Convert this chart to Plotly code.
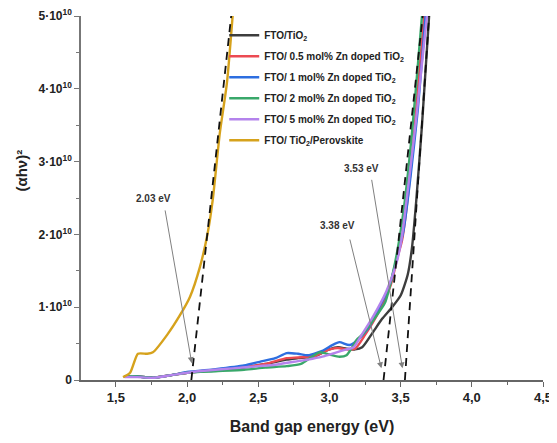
import plotly.graph_objects as go

# ---- data, energies in eV, (ahv)^2 in units of 1e10 ----
E10 = 1e10

tio2_x = [1.56, 1.65, 1.75, 1.9, 2.0, 2.2, 2.4, 2.55, 2.7, 2.78, 2.9, 3.0, 3.06, 3.12, 3.18, 3.23, 3.30, 3.37, 3.44, 3.50, 3.55, 3.58, 3.61, 3.65, 3.70]
tio2_y = [0.05, 0.05, 0.03, 0.07, 0.10, 0.13, 0.17, 0.22, 0.28, 0.30, 0.33, 0.42, 0.45, 0.43, 0.42, 0.45, 0.64, 0.84, 1.00, 1.16, 1.45, 1.82, 2.47, 3.50, 5.00]

zn05_x = [1.56, 1.65, 1.75, 1.9, 2.0, 2.2, 2.4, 2.55, 2.7, 2.78, 2.9, 3.0, 3.06, 3.12, 3.18, 3.25, 3.35, 3.43, 3.48, 3.51, 3.55, 3.60, 3.665]
zn05_y = [0.05, 0.05, 0.03, 0.07, 0.10, 0.14, 0.18, 0.22, 0.30, 0.31, 0.33, 0.42, 0.44, 0.42, 0.43, 0.62, 0.95, 1.30, 1.70, 1.92, 2.50, 3.50, 5.00]

zn1_x = [1.56, 1.65, 1.75, 1.9, 2.0, 2.2, 2.4, 2.51, 2.62, 2.70, 2.78, 2.85, 2.95, 3.02, 3.07, 3.14, 3.20, 3.28, 3.35, 3.42, 3.47, 3.52, 3.57, 3.62, 3.675]
zn1_y = [0.05, 0.05, 0.03, 0.07, 0.11, 0.15, 0.20, 0.25, 0.30, 0.37, 0.36, 0.34, 0.40, 0.48, 0.52, 0.48, 0.55, 0.73, 1.00, 1.28, 1.65, 2.05, 2.80, 3.70, 5.00]

zn2_x = [1.56, 1.65, 1.75, 1.9, 2.0, 2.2, 2.4, 2.55, 2.7, 2.8, 2.93, 3.0, 3.07, 3.12, 3.16, 3.19, 3.23, 3.30, 3.39, 3.44, 3.49, 3.53, 3.58, 3.62, 3.65]
zn2_y = [0.05, 0.05, 0.03, 0.07, 0.10, 0.12, 0.14, 0.17, 0.19, 0.22, 0.38, 0.35, 0.32, 0.34, 0.45, 0.55, 0.62, 0.80, 1.06, 1.42, 1.92, 2.47, 3.40, 4.30, 5.00]

zn5_x = [1.56, 1.65, 1.76, 1.9, 2.04, 2.2, 2.32, 2.5, 2.62, 2.75, 2.85, 2.95, 3.05, 3.12, 3.17, 3.22, 3.30, 3.40, 3.47, 3.505, 3.55, 3.61, 3.685]
zn5_y = [0.04, 0.04, 0.03, 0.07, 0.11, 0.14, 0.16, 0.19, 0.21, 0.25, 0.28, 0.32, 0.38, 0.42, 0.45, 0.60, 0.85, 1.22, 1.60, 1.92, 2.60, 3.60, 5.00]

pero_x = [1.55, 1.60, 1.655, 1.72, 1.76, 1.86, 1.95, 2.02, 2.09, 2.145, 2.18, 2.23, 2.28, 2.32]
pero_y = [0.04, 0.10, 0.36, 0.36, 0.38, 0.62, 0.89, 1.14, 1.55, 2.02, 2.47, 3.39, 4.08, 5.00]

# tangent (Tauc extrapolation) lines
tan1_x = [2.03, 2.31]
tan1_y = [0.0, 5.0]
tan2_x = [3.38, 3.655]
tan2_y = [0.0, 5.0]
tan3_x = [3.53, 3.70]
tan3_y = [0.0, 5.0]

names = [
    "FTO/TiO<sub>2</sub>",
    "FTO/ 0.5 mol% Zn doped TiO<sub>2</sub>",
    "FTO/ 1 mol% Zn doped TiO<sub>2</sub>",
    "FTO/ 2 mol% Zn doped TiO<sub>2</sub>",
    "FTO/ 5 mol% Zn doped TiO<sub>2</sub>",
    "FTO/ TiO<sub>2</sub>/Perovskite",
]
colors = ["#3d3d3d", "#ec4a52", "#2d6ee0", "#39a86a", "#b483ec", "#d6a21c"]
series = [(tio2_x, tio2_y), (zn05_x, zn05_y), (zn1_x, zn1_y), (zn2_x, zn2_y), (zn5_x, zn5_y), (pero_x, pero_y)]

x_ticks = [1.5, 2.0, 2.5, 3.0, 3.5, 4.0, 4.5]
x_ticktext = ["1,5", "2,0", "2,5", "3,0", "3,5", "4,0", "4,5"]
y_ticks = [0, 1, 2, 3, 4, 5]
y_ticktext = ["0"] + [f"{v}·10<sup>10</sup>" for v in y_ticks[1:]]

FONT = "Liberation Sans, Arial, sans-serif"

fig = go.Figure()

for i, ((xs, ys), nm, col) in enumerate(zip(series, names, colors)):
    fig.add_trace(go.Scatter(x=xs, y=[v * E10 for v in ys], mode="lines", name=f"<b>{nm}</b>",
                             legendgroup=f"g{i}",
                             line=dict(color=col, width=2.4, shape="spline", smoothing=0.6)))

for tx, ty in [(tan1_x, tan1_y), (tan2_x, tan2_y), (tan3_x, tan3_y)]:
    fig.add_trace(go.Scatter(x=tx, y=[v * E10 for v in ty], mode="lines", showlegend=False,
                             line=dict(color="#111111", width=1.8, dash="8px,6px"), hoverinfo="skip"))

# annotations: labels + arrows
labels = [("2.03 eV", 1.766, 2.50), ("3.38 eV", 3.057, 2.12), ("3.53 eV", 3.225, 2.91)]
arrows = [((1.844, 2.35), (2.033, 0.23)), ((3.141, 1.95), (3.365, 0.16)), ((3.295, 2.77), (3.513, 0.16))]
for txt, lx, ly in labels:
    fig.add_annotation(x=lx, y=ly * E10, text=f"<b>{txt}</b>", showarrow=False,
                       font=dict(family=FONT, size=10, color="#333333"))
for (tx, ty), (hx, hy) in arrows:
    fig.add_annotation(x=hx, y=hy * E10, ax=tx, ay=ty * E10, axref="x", ayref="y",
                       xref="x", yref="y", text="", showarrow=True,
                       arrowhead=2, arrowsize=1.2, arrowwidth=1, arrowcolor="#808080")

# y axis title
fig.add_annotation(xref="paper", yref="paper", x=-0.128, y=0.575, text="<b>(αhν)²</b>",
                   showarrow=False, textangle=-90, font=dict(family=FONT, size=15, color="#222222"),
                   xanchor="center", yanchor="middle")

# page body has an 8px default margin, so the figure is 8px smaller and shifted
fig.update_layout(
    width=549, height=435,
    margin=dict(l=73, r=14, t=8, b=63),
    paper_bgcolor="white", plot_bgcolor="white",
    font=dict(family=FONT, color="#222222"),
    showlegend=True,
    legend=dict(x=0.31, y=0.987, xanchor="left", yanchor="top", bgcolor="rgba(0,0,0,0)",
                font=dict(family=FONT, size=10, color="#222222"), tracegroupgap=2,
                itemwidth=30),
    xaxis=dict(range=[1.255, 4.5], tickvals=x_ticks, ticktext=[f"<b>{t}</b>" for t in x_ticktext],
               automargin=False, ticklabeloverflow="allow",
               showgrid=False, zeroline=False, showline=True, linecolor="#666666", linewidth=1.5,
               ticks="outside", ticklen=5, tickcolor="#666666", tickwidth=1.3,
               tickfont=dict(family=FONT, size=13, color="#222222"),
               minor=dict(tickvals=[1.25, 1.75, 2.25, 2.75, 3.25, 3.75, 4.25], ticks="outside",
                          ticklen=3, tickcolor="#666666"),
               title=dict(text="<b>Band gap energy (eV)</b>", font=dict(family=FONT, size=16, color="#222222"),
                          standoff=16)),
    yaxis=dict(range=[0, 5 * E10], tickvals=[v * E10 for v in y_ticks],
               ticktext=[f"<b>{t}</b>" for t in y_ticktext], automargin=False,
               ticklabeloverflow="allow",
               showgrid=False, zeroline=False, showline=True, linecolor="#777777", linewidth=1.5,
               ticks="outside", ticklen=5, tickcolor="#777777", tickwidth=1.3,
               tickfont=dict(family=FONT, size=12, color="#222222"),
               minor=dict(tickvals=[v * E10 for v in [0.5, 1.5, 2.5, 3.5, 4.5]], ticks="outside",
                          ticklen=3, tickcolor="#777777")),
)

fig.write_html("out.html")
